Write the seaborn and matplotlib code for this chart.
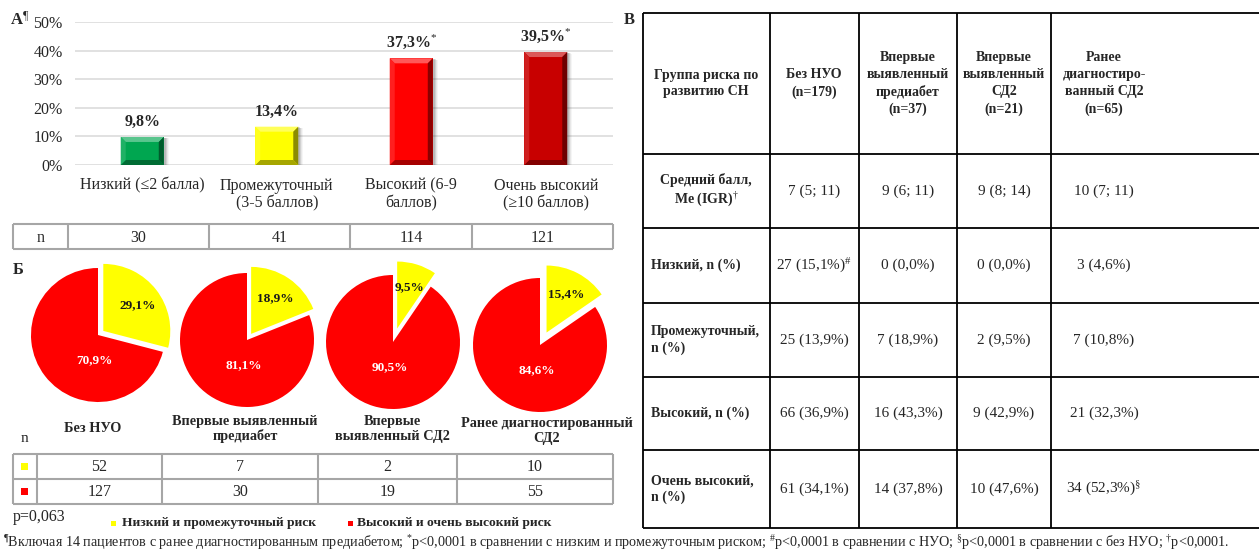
import matplotlib
matplotlib.use("Agg")
import matplotlib.pyplot as plt
import matplotlib.colors as mcolors
from matplotlib.patches import Polygon, Rectangle
import numpy as np
import pandas as pd
import seaborn as sns

# ---------------- data ----------------
risk_levels = ["Низкий (≤2 балла)", "Промежуточный\n(3-5 баллов)",
               "Высокий (6-9\nбаллов)", "Очень высокий\n(≥10 баллов)"]
risk_share = [9.8, 13.4, 37.3, 39.5]
risk_sig = ["", "", "*", "*"]
risk_n = [30, 41, 114, 121]
risk_colors = ["#00a650", "#ffff00", "#ff0000", "#c80000"]
y_ticks = [0, 10, 20, 30, 40, 50]

pie_groups = ["Без НУО", "Впервые выявленный\nпредиабет",
              "Впервые\nвыявленный СД2", "Ранее диагностированный\nСД2"]
low_mid_counts = [52, 7, 2, 10]
high_counts = [127, 30, 19, 55]
pie_colors = ["#ffff00", "#ff0000"]
legend_labels = ["Низкий и промежуточный риск", "Высокий и очень высокий риск"]
p_value_text = "p=0,063"

table_header = ["Группа риска по\nразвитию СН", "Без НУО\n(n=179)",
                "Впервые\nвыявленный\nпредиабет\n(n=37)",
                "Впервые\nвыявленный\nСД2\n(n=21)",
                "Ранее\nдиагностиро-\nванный СД2\n(n=65)"]
table_row_labels = ["Средний балл,\nMe (IGR)$^{\\dag}$", "Низкий, n (%)",
                    "Промежуточный,\nn (%)", "Высокий, n (%)",
                    "Очень высокий,\nn (%)"]
table_values = [
    ["7 (5; 11)", "9 (6; 11)", "9 (8; 14)", "10 (7; 11)"],
    ["27 (15,1%)$^{\\#}$", "0 (0,0%)", "0 (0,0%)", "3 (4,6%)"],
    ["25 (13,9%)", "7 (18,9%)", "2 (9,5%)", "7 (10,8%)"],
    ["66 (36,9%)", "16 (43,3%)", "9 (42,9%)", "21 (32,3%)"],
    ["61 (34,1%)", "14 (37,8%)", "10 (47,6%)", "34 (52,3%)$^{\\S}$"],
]
footnote = ("$^{\\P}$Включая 14 пациентов с ранее диагностированным предиабетом; "
            "$^{*}$p<0,0001 в сравнении с низким и промежуточным риском; "
            "$^{\\#}$p<0,0001 в сравнении с НУО; $^{\\S}$p<0,0001 в сравнении с без НУО; "
            "$^{\\dag}$p<0,0001.")

# ---------------- style ----------------
sns.set_theme(style="white")
plt.rcParams['font.family'] = ['Liberation Serif', 'DejaVu Serif']
plt.rcParams['mathtext.fontset'] = 'custom'
plt.rcParams['mathtext.rm'] = 'Liberation Serif'
plt.rcParams['mathtext.it'] = 'Liberation Serif'
plt.rcParams['mathtext.bf'] = 'Liberation Serif:bold'

W, H = 1259, 550
fig = plt.figure(figsize=(W / 100, H / 100), dpi=100)
fig.patch.set_facecolor("white")


def px_axes(x0, y0, x1, y1):
    return fig.add_axes([x0 / W, 1 - y1 / H, (x1 - x0) / W, (y1 - y0) / H])


def fmt_pct(v):
    return f"{v:.1f}".replace(".", ",") + "%"


def shade(color, amount):
    c = np.array(mcolors.to_rgb(color))
    if amount >= 0:
        return tuple(c + (1 - c) * amount)
    return tuple(c * (1 + amount))


# ---------------- panel A: bar chart ----------------
AX0, AX1, AY0, AY1 = 75, 613, 22, 165
ax = px_axes(AX0, AY0, AX1, AY1)
ax.set_facecolor("none")
df = pd.DataFrame({"level": risk_levels, "share": risk_share})
sns.barplot(data=df, x="level", y="share", hue="level", palette=risk_colors,
            saturation=1, width=0.32, legend=False, ax=ax, zorder=3)
ax.set_xlim(-0.5, 3.5)
ax.set_ylim(0, 50)
ax.set_yticks(y_ticks)
ax.set_yticklabels([f"{t}%" for t in y_ticks], fontsize=11.5)
ax.set_xticks(range(len(risk_levels)))
ax.set_xticklabels(risk_levels, fontsize=11.5, linespacing=1.15)
ax.tick_params(axis="x", length=0, pad=9)
ax.tick_params(axis="y", length=0, pad=9)
ax.set_xlabel("")
ax.set_ylabel("")
for s in ax.spines.values():
    s.set_visible(False)
ax.yaxis.grid(True, color="#d9d9d9", lw=1.1, zorder=0)
ax.set_axisbelow(True)

# bevelled faces and soft shadow for each bar
sx = 5 * 4.0 / (AX1 - AX0)
sy = 5 * 50.0 / (AY1 - AY0)
px_x = 4.0 / (AX1 - AX0)
px_y = 50.0 / (AY1 - AY0)
bars = sorted(ax.patches, key=lambda p: p.get_x())
for bar, col in zip(bars, risk_colors):
    x, w, h = bar.get_x(), bar.get_width(), bar.get_height()
    for k, a in zip([2, 3, 4, 5], [0.16, 0.12, 0.08, 0.05]):
        ax.add_patch(Rectangle((x + k * px_x, -k * px_y * 0.3), w, h,
                               color="#404040", alpha=a, lw=0, zorder=2))
    faces = [
        ([(x, h), (x + w, h), (x + w - sx, h - sy), (x + sx, h - sy)], shade(col, 0.35)),
        ([(x, 0), (x + w, 0), (x + w - sx, sy), (x + sx, sy)], shade(col, -0.35)),
        ([(x, 0), (x, h), (x + sx, h - sy), (x + sx, sy)], shade(col, 0.12)),
        ([(x + w, 0), (x + w, h), (x + w - sx, h - sy), (x + w - sx, sy)], shade(col, -0.45)),
    ]
    for pts, fc in faces:
        ax.add_patch(Polygon(pts, closed=True, fc=fc, ec="none", zorder=4))
    bar.set_edgecolor("none")

for i, (v, sig) in enumerate(zip(risk_share, risk_sig)):
    label = fmt_pct(v) + (f"$^{{{sig}}}$" if sig else "")
    ax.annotate(label, xy=(i, v), xytext=(0, 7), textcoords="offset pixels",
                ha="center", va="bottom", fontsize=11.5, fontweight="bold",
                zorder=6)

# ---------------- panel Б: pies ----------------
pie_centers = [(98, 335), (247, 340), (393, 342), (540, 345)]
pie_explode = [0.1, 0.11, 0.21, 0.21]
R = 67
S = 1.2
for (cx, cy), lo, hi, ex in zip(pie_centers, low_mid_counts, high_counts, pie_explode):
    pa = px_axes(cx - S * R, cy - S * R, cx + S * R, cy + S * R)
    pa.set_facecolor("none")
    wedges, texts, autotexts = pa.pie(
        [lo, hi], colors=pie_colors, startangle=90, counterclock=False,
        explode=[ex, 0], radius=1, autopct=fmt_pct, pctdistance=0.64,
        wedgeprops=dict(linewidth=0))
    autotexts[0].set(fontsize=9.5, fontweight="bold", color="#1a1a1a")
    autotexts[1].set(fontsize=9.5, fontweight="bold", color="white")
    autotexts[1].set_position((-0.05, -0.38))
    pa.set_xlim(-S, S)
    pa.set_ylim(-S, S)
    pa.set_aspect("equal")
    pa.axis("off")

# ---------------- overlay for tables and free text ----------------
ov = fig.add_axes([0, 0, 1, 1])
ov.set_xlim(0, W)
ov.set_ylim(H, 0)
ov.axis("off")
ov.patch.set_visible(False)

GRAY = "#a6a6a6"


def hline(x0, x1, y, **kw):
    ov.plot([x0, x1], [y, y], solid_capstyle="butt", **kw)


def vline(x, y0, y1, **kw):
    ov.plot([x, x], [y0, y1], solid_capstyle="butt", **kw)


# table with n under the bar chart
bx = [13, 68, 209, 350, 472, 613]
by = [224, 249]
for y in by:
    hline(bx[0], bx[-1], y, color=GRAY, lw=1.5)
for x in bx:
    vline(x, by[0], by[1], color=GRAY, lw=1.5)
cells = ["n"] + [str(n) for n in risk_n]
for i, t in enumerate(cells):
    ov.text((bx[i] + bx[i + 1]) / 2, 237.5, t, ha="center", va="center", fontsize=11.5)

# pie group titles
title_pos = [(93, 428), (245, 429), (392, 429), (547, 431)]
for (tx, ty), g in zip(title_pos, pie_groups):
    ov.text(tx, ty, g, ha="center", va="center", fontsize=10.3,
            fontweight="bold", linespacing=1.15)
ov.text(24, 438, "n", ha="center", va="center", fontsize=11)

# counts table under the pies
px_cols = [13, 37, 162, 318, 457, 613]
px_rows = [454, 479, 504]
for y in px_rows:
    hline(px_cols[0], px_cols[-1], y, color=GRAY, lw=1.5)
for x in px_cols:
    vline(x, px_rows[0], px_rows[-1], color=GRAY, lw=1.5)
for r, (counts, col) in enumerate(zip([low_mid_counts, high_counts], pie_colors)):
    yc = (px_rows[r] + px_rows[r + 1]) / 2
    ov.add_patch(Rectangle((21, yc - 3.5), 7, 7, color=col, lw=0))
    for c, v in enumerate(counts):
        ov.text((px_cols[c + 1] + px_cols[c + 2]) / 2, yc + 0.5, str(v),
                ha="center", va="center", fontsize=11.5)

ov.text(13, 517, p_value_text, ha="left", va="center", fontsize=11.5)
for (mx, tx), lab, col in zip([(114, 122), (351, 357)], legend_labels, pie_colors):
    ov.add_patch(Rectangle((mx - 2.5, 520.5), 5, 5, color=col, lw=0))
    ov.text(tx, 523, lab, ha="left", va="center", fontsize=9.7, fontweight="bold")

# panel letters
ov.text(10, 20, "А$^{\\P}$", ha="left", va="center", fontsize=12, fontweight="bold")
ov.text(13, 270, "Б", ha="left", va="center", fontsize=12, fontweight="bold")
ov.text(624, 20, "В", ha="left", va="center", fontsize=12, fontweight="bold")

# panel В table
tc = [643, 770, 859, 957, 1051, 1265]
tr = [13, 154, 228, 303, 377, 450, 528]
for y in tr:
    hline(tc[0], tc[-1], y, color="black", lw=1.3)
for x in tc[:-1]:
    vline(x, tr[0], tr[-1], color="black", lw=1.3)
col_centers = [706, 814, 908, 1004, 1104]
for c, t in enumerate(table_header):
    ov.text(col_centers[c], (tr[0] + tr[1]) / 2, t, ha="center", va="center",
            fontsize=10, fontweight="bold", linespacing=1.38)
for r, (lab, vals) in enumerate(zip(table_row_labels, table_values)):
    yc = (tr[r + 1] + tr[r + 2]) / 2
    if r == 0:
        ov.text(col_centers[0], yc, lab, ha="center", va="center", fontsize=10,
                fontweight="bold", linespacing=1.3)
    else:
        ov.text(651, yc, lab, ha="left", va="center", fontsize=10,
                fontweight="bold", linespacing=1.3)
    for c, v in enumerate(vals):
        ov.text(col_centers[c + 1], yc, v, ha="center", va="center", fontsize=11)

ov.text(3, 543, footnote, ha="left", va="center", fontsize=10.2)

fig.savefig("out.png", dpi=100, facecolor="white")
